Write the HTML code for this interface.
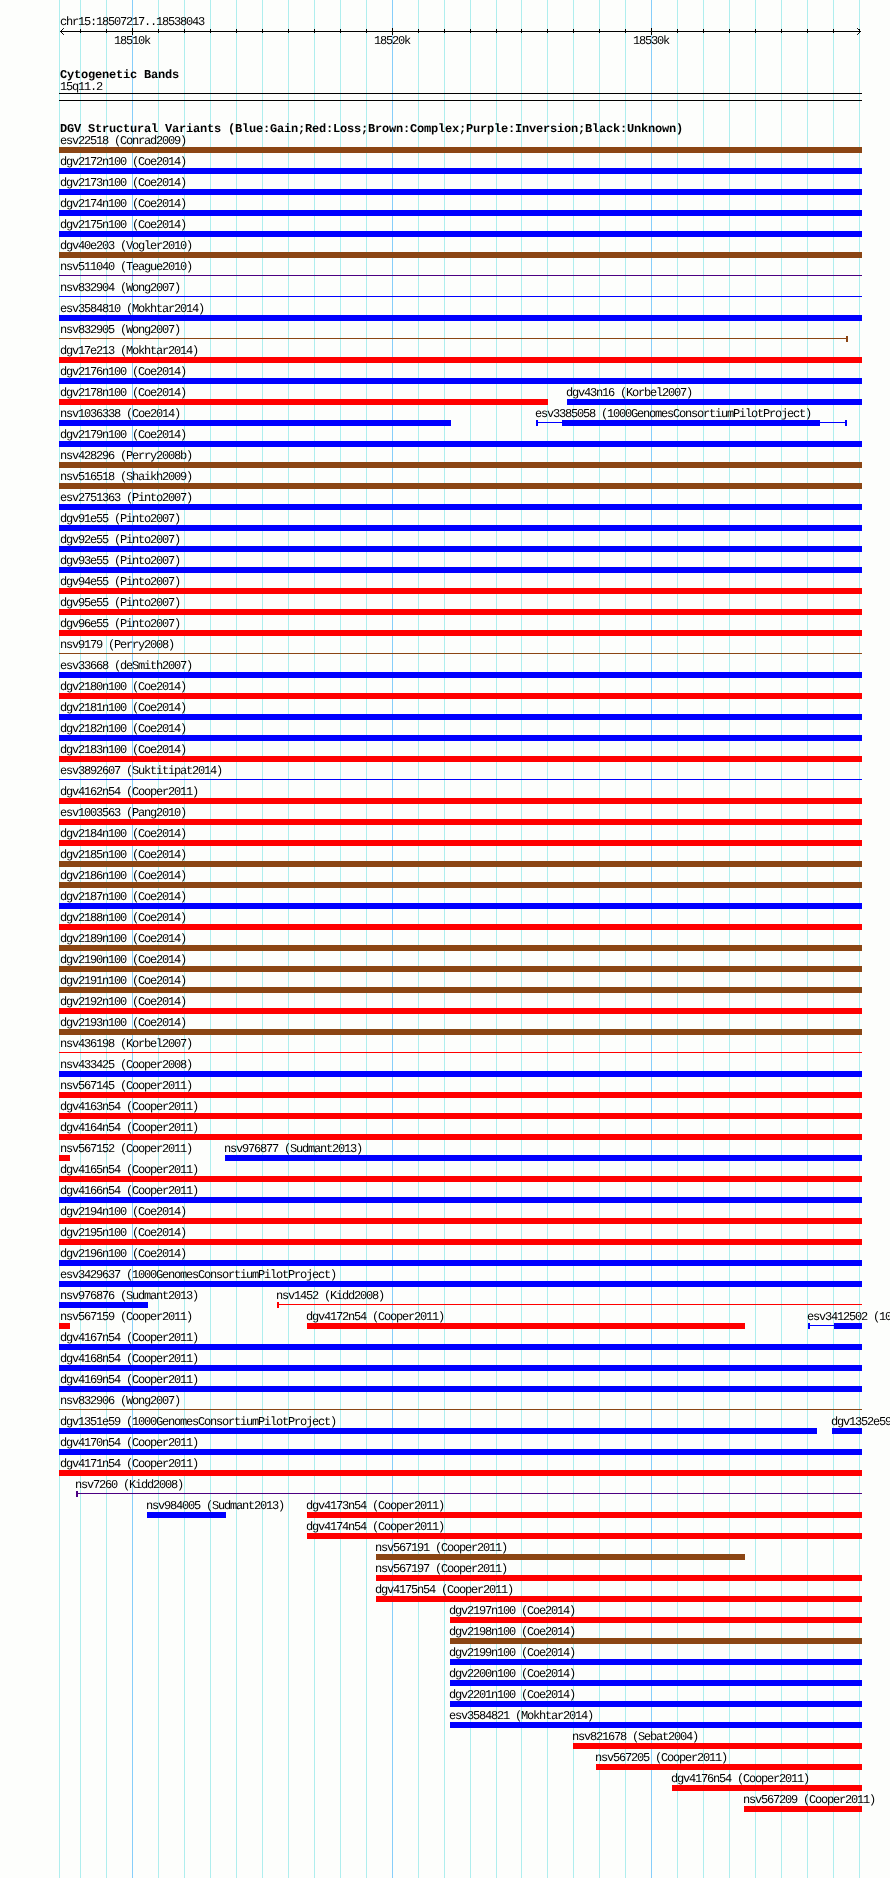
<!DOCTYPE html><html><head><meta charset="utf-8"><title>DGV</title><style>
html,body{margin:0;padding:0;background:#fdfefc;}
body{width:890px;height:1878px;position:relative;overflow:hidden;font-family:"Liberation Mono",monospace;color:#000;}
#c{position:absolute;left:0;top:0;width:890px;height:1878px;overflow:hidden;will-change:transform;}
i,b,s,u{position:absolute;display:block;font-style:normal;font-weight:normal;text-decoration:none;}
i{top:0;width:1px;height:1878px;background:#afeeee;}
i.M{background:#87cefa;}
b{height:6px;}
u{height:1px;}
s{white-space:pre;text-rendering:geometricPrecision;font-size:12px;line-height:14px;height:14px;letter-spacing:-1.2012px;}
s.B{font-weight:bold;letter-spacing:-0.2012px;}
.b{background:#0000ff;}.r{background:#ff0000;}.n{background:#8b4513;}.p{background:#4b0082;}.k{background:#000;}

</style></head><body><div id="c">
<i style="left:59px"></i>
<i style="left:80px"></i>
<i style="left:106px"></i>
<i class="M" style="left:132px"></i>
<i style="left:158px"></i>
<i style="left:184px"></i>
<i style="left:210px"></i>
<i style="left:236px"></i>
<i style="left:262px"></i>
<i style="left:288px"></i>
<i style="left:314px"></i>
<i style="left:340px"></i>
<i style="left:366px"></i>
<i class="M" style="left:392px"></i>
<i style="left:418px"></i>
<i style="left:444px"></i>
<i style="left:470px"></i>
<i style="left:496px"></i>
<i style="left:521px"></i>
<i style="left:547px"></i>
<i style="left:573px"></i>
<i style="left:599px"></i>
<i style="left:625px"></i>
<i class="M" style="left:651px"></i>
<i style="left:677px"></i>
<i style="left:703px"></i>
<i style="left:729px"></i>
<i style="left:755px"></i>
<i style="left:781px"></i>
<i style="left:807px"></i>
<i style="left:833px"></i>
<i style="left:859px"></i>
<u class="k" style="left:60px;top:31px;width:801px"></u>
<u class="k" style="left:80px;top:29px;width:1px;height:4px"></u>
<u class="k" style="left:106px;top:29px;width:1px;height:4px"></u>
<u class="k" style="left:132px;top:28px;width:1px;height:7px"></u>
<u class="k" style="left:158px;top:29px;width:1px;height:4px"></u>
<u class="k" style="left:184px;top:29px;width:1px;height:4px"></u>
<u class="k" style="left:210px;top:29px;width:1px;height:4px"></u>
<u class="k" style="left:236px;top:29px;width:1px;height:4px"></u>
<u class="k" style="left:262px;top:29px;width:1px;height:4px"></u>
<u class="k" style="left:288px;top:29px;width:1px;height:4px"></u>
<u class="k" style="left:314px;top:29px;width:1px;height:4px"></u>
<u class="k" style="left:340px;top:29px;width:1px;height:4px"></u>
<u class="k" style="left:366px;top:29px;width:1px;height:4px"></u>
<u class="k" style="left:392px;top:28px;width:1px;height:7px"></u>
<u class="k" style="left:418px;top:29px;width:1px;height:4px"></u>
<u class="k" style="left:444px;top:29px;width:1px;height:4px"></u>
<u class="k" style="left:470px;top:29px;width:1px;height:4px"></u>
<u class="k" style="left:496px;top:29px;width:1px;height:4px"></u>
<u class="k" style="left:521px;top:29px;width:1px;height:4px"></u>
<u class="k" style="left:547px;top:29px;width:1px;height:4px"></u>
<u class="k" style="left:573px;top:29px;width:1px;height:4px"></u>
<u class="k" style="left:599px;top:29px;width:1px;height:4px"></u>
<u class="k" style="left:625px;top:29px;width:1px;height:4px"></u>
<u class="k" style="left:651px;top:28px;width:1px;height:7px"></u>
<u class="k" style="left:677px;top:29px;width:1px;height:4px"></u>
<u class="k" style="left:703px;top:29px;width:1px;height:4px"></u>
<u class="k" style="left:729px;top:29px;width:1px;height:4px"></u>
<u class="k" style="left:755px;top:29px;width:1px;height:4px"></u>
<u class="k" style="left:781px;top:29px;width:1px;height:4px"></u>
<u class="k" style="left:807px;top:29px;width:1px;height:4px"></u>
<u class="k" style="left:833px;top:29px;width:1px;height:4px"></u>
<u class="k" style="left:859px;top:29px;width:1px;height:4px"></u>
<svg style="position:absolute;left:0;top:0" width="890" height="40"><path d="M63.5 28.5 L60.5 31.5 L63.5 34.5 M857.5 28.5 L860.5 31.5 L857.5 34.5" fill="none" stroke="#000" stroke-width="1" stroke-linecap="square"/></svg>
<s style="left:60px;top:15px">chr15:18507217..18538043</s>
<s style="left:114px;top:34px">18510k</s>
<s style="left:374px;top:34px">18520k</s>
<s style="left:633px;top:34px">18530k</s>
<s class="B" style="left:60px;top:68px">Cytogenetic Bands</s>
<s style="left:60px;top:80px">15q11.2</s>
<u class="k" style="left:59px;top:93px;width:803px"></u>
<u class="k" style="left:59px;top:100px;width:803px"></u>
<s class="B" style="left:60px;top:122px">DGV Structural Variants (Blue:Gain;Red:Loss;Brown:Complex;Purple:Inversion;Black:Unknown)</s>
<s style="left:60px;top:134px">esv22518 (Conrad2009)</s>
<b class="n" style="left:59px;top:147px;width:803px"></b>
<s style="left:60px;top:155px">dgv2172n100 (Coe2014)</s>
<b class="b" style="left:59px;top:168px;width:803px"></b>
<s style="left:60px;top:176px">dgv2173n100 (Coe2014)</s>
<b class="b" style="left:59px;top:189px;width:803px"></b>
<s style="left:60px;top:197px">dgv2174n100 (Coe2014)</s>
<b class="b" style="left:59px;top:210px;width:803px"></b>
<s style="left:60px;top:218px">dgv2175n100 (Coe2014)</s>
<b class="b" style="left:59px;top:231px;width:803px"></b>
<s style="left:60px;top:239px">dgv40e203 (Vogler2010)</s>
<b class="n" style="left:59px;top:252px;width:803px"></b>
<s style="left:60px;top:260px">nsv511040 (Teague2010)</s>
<u class="p" style="left:59px;top:275px;width:803px"></u>
<s style="left:60px;top:281px">nsv832904 (Wong2007)</s>
<u class="b" style="left:59px;top:296px;width:803px"></u>
<s style="left:60px;top:302px">esv3584810 (Mokhtar2014)</s>
<b class="b" style="left:59px;top:315px;width:803px"></b>
<s style="left:60px;top:323px">nsv832905 (Wong2007)</s>
<u class="n" style="left:59px;top:338px;width:789px"></u>
<b class="n" style="left:846px;top:336px;width:2px"></b>
<s style="left:60px;top:344px">dgv17e213 (Mokhtar2014)</s>
<b class="r" style="left:59px;top:357px;width:803px"></b>
<s style="left:60px;top:365px">dgv2176n100 (Coe2014)</s>
<b class="b" style="left:59px;top:378px;width:803px"></b>
<s style="left:60px;top:386px">dgv2178n100 (Coe2014)</s>
<b class="r" style="left:59px;top:399px;width:489px"></b>
<s style="left:566px;top:386px">dgv43n16 (Korbel2007)</s>
<b class="b" style="left:567px;top:399px;width:295px"></b>
<s style="left:60px;top:407px">nsv1036338 (Coe2014)</s>
<b class="b" style="left:59px;top:420px;width:392px"></b>
<s style="left:535px;top:407px">esv3385058 (1000GenomesConsortiumPilotProject)</s>
<u class="b" style="left:536px;top:422px;width:311px"></u>
<b class="b" style="left:536px;top:420px;width:2px"></b>
<b class="b" style="left:845px;top:420px;width:2px"></b>
<b class="b" style="left:562px;top:420px;width:258px"></b>
<s style="left:60px;top:428px">dgv2179n100 (Coe2014)</s>
<b class="b" style="left:59px;top:441px;width:803px"></b>
<s style="left:60px;top:449px">nsv428296 (Perry2008b)</s>
<b class="n" style="left:59px;top:462px;width:803px"></b>
<s style="left:60px;top:470px">nsv516518 (Shaikh2009)</s>
<b class="n" style="left:59px;top:483px;width:803px"></b>
<s style="left:60px;top:491px">esv2751363 (Pinto2007)</s>
<b class="b" style="left:59px;top:504px;width:803px"></b>
<s style="left:60px;top:512px">dgv91e55 (Pinto2007)</s>
<b class="b" style="left:59px;top:525px;width:803px"></b>
<s style="left:60px;top:533px">dgv92e55 (Pinto2007)</s>
<b class="b" style="left:59px;top:546px;width:803px"></b>
<s style="left:60px;top:554px">dgv93e55 (Pinto2007)</s>
<b class="b" style="left:59px;top:567px;width:803px"></b>
<s style="left:60px;top:575px">dgv94e55 (Pinto2007)</s>
<b class="r" style="left:59px;top:588px;width:803px"></b>
<s style="left:60px;top:596px">dgv95e55 (Pinto2007)</s>
<b class="r" style="left:59px;top:609px;width:803px"></b>
<s style="left:60px;top:617px">dgv96e55 (Pinto2007)</s>
<b class="r" style="left:59px;top:630px;width:803px"></b>
<s style="left:60px;top:638px">nsv9179 (Perry2008)</s>
<u class="n" style="left:59px;top:653px;width:803px"></u>
<s style="left:60px;top:659px">esv33668 (deSmith2007)</s>
<b class="b" style="left:59px;top:672px;width:803px"></b>
<s style="left:60px;top:680px">dgv2180n100 (Coe2014)</s>
<b class="r" style="left:59px;top:693px;width:803px"></b>
<s style="left:60px;top:701px">dgv2181n100 (Coe2014)</s>
<b class="b" style="left:59px;top:714px;width:803px"></b>
<s style="left:60px;top:722px">dgv2182n100 (Coe2014)</s>
<b class="b" style="left:59px;top:735px;width:803px"></b>
<s style="left:60px;top:743px">dgv2183n100 (Coe2014)</s>
<b class="r" style="left:59px;top:756px;width:803px"></b>
<s style="left:60px;top:764px">esv3892607 (Suktitipat2014)</s>
<u class="b" style="left:59px;top:779px;width:803px"></u>
<s style="left:60px;top:785px">dgv4162n54 (Cooper2011)</s>
<b class="r" style="left:59px;top:798px;width:803px"></b>
<s style="left:60px;top:806px">esv1003563 (Pang2010)</s>
<b class="r" style="left:59px;top:819px;width:803px"></b>
<s style="left:60px;top:827px">dgv2184n100 (Coe2014)</s>
<b class="r" style="left:59px;top:840px;width:803px"></b>
<s style="left:60px;top:848px">dgv2185n100 (Coe2014)</s>
<b class="n" style="left:59px;top:861px;width:803px"></b>
<s style="left:60px;top:869px">dgv2186n100 (Coe2014)</s>
<b class="n" style="left:59px;top:882px;width:803px"></b>
<s style="left:60px;top:890px">dgv2187n100 (Coe2014)</s>
<b class="b" style="left:59px;top:903px;width:803px"></b>
<s style="left:60px;top:911px">dgv2188n100 (Coe2014)</s>
<b class="r" style="left:59px;top:924px;width:803px"></b>
<s style="left:60px;top:932px">dgv2189n100 (Coe2014)</s>
<b class="n" style="left:59px;top:945px;width:803px"></b>
<s style="left:60px;top:953px">dgv2190n100 (Coe2014)</s>
<b class="n" style="left:59px;top:966px;width:803px"></b>
<s style="left:60px;top:974px">dgv2191n100 (Coe2014)</s>
<b class="n" style="left:59px;top:987px;width:803px"></b>
<s style="left:60px;top:995px">dgv2192n100 (Coe2014)</s>
<b class="r" style="left:59px;top:1008px;width:803px"></b>
<s style="left:60px;top:1016px">dgv2193n100 (Coe2014)</s>
<b class="n" style="left:59px;top:1029px;width:803px"></b>
<s style="left:60px;top:1037px">nsv436198 (Korbel2007)</s>
<u class="r" style="left:59px;top:1052px;width:803px"></u>
<s style="left:60px;top:1058px">nsv433425 (Cooper2008)</s>
<b class="b" style="left:59px;top:1071px;width:803px"></b>
<s style="left:60px;top:1079px">nsv567145 (Cooper2011)</s>
<b class="r" style="left:59px;top:1092px;width:803px"></b>
<s style="left:60px;top:1100px">dgv4163n54 (Cooper2011)</s>
<b class="r" style="left:59px;top:1113px;width:803px"></b>
<s style="left:60px;top:1121px">dgv4164n54 (Cooper2011)</s>
<b class="r" style="left:59px;top:1134px;width:803px"></b>
<s style="left:60px;top:1142px">nsv567152 (Cooper2011)</s>
<b class="r" style="left:59px;top:1155px;width:11px"></b>
<s style="left:224px;top:1142px">nsv976877 (Sudmant2013)</s>
<b class="b" style="left:225px;top:1155px;width:637px"></b>
<s style="left:60px;top:1163px">dgv4165n54 (Cooper2011)</s>
<b class="r" style="left:59px;top:1176px;width:803px"></b>
<s style="left:60px;top:1184px">dgv4166n54 (Cooper2011)</s>
<b class="b" style="left:59px;top:1197px;width:803px"></b>
<s style="left:60px;top:1205px">dgv2194n100 (Coe2014)</s>
<b class="r" style="left:59px;top:1218px;width:803px"></b>
<s style="left:60px;top:1226px">dgv2195n100 (Coe2014)</s>
<b class="r" style="left:59px;top:1239px;width:803px"></b>
<s style="left:60px;top:1247px">dgv2196n100 (Coe2014)</s>
<b class="b" style="left:59px;top:1260px;width:803px"></b>
<s style="left:60px;top:1268px">esv3429637 (1000GenomesConsortiumPilotProject)</s>
<b class="b" style="left:59px;top:1281px;width:803px"></b>
<s style="left:60px;top:1289px">nsv976876 (Sudmant2013)</s>
<b class="b" style="left:59px;top:1302px;width:89px"></b>
<s style="left:276px;top:1289px">nsv1452 (Kidd2008)</s>
<u class="r" style="left:277px;top:1304px;width:585px"></u>
<b class="r" style="left:277px;top:1302px;width:2px"></b>
<s style="left:60px;top:1310px">nsv567159 (Cooper2011)</s>
<b class="r" style="left:59px;top:1323px;width:11px"></b>
<s style="left:306px;top:1310px">dgv4172n54 (Cooper2011)</s>
<b class="r" style="left:307px;top:1323px;width:438px"></b>
<s style="left:807px;top:1310px">esv3412502 (1000GenomesConsortiumPilotProject)</s>
<u class="b" style="left:808px;top:1325px;width:54px"></u>
<b class="b" style="left:808px;top:1323px;width:2px"></b>
<b class="b" style="left:834px;top:1323px;width:28px"></b>
<s style="left:60px;top:1331px">dgv4167n54 (Cooper2011)</s>
<b class="b" style="left:59px;top:1344px;width:803px"></b>
<s style="left:60px;top:1352px">dgv4168n54 (Cooper2011)</s>
<b class="b" style="left:59px;top:1365px;width:803px"></b>
<s style="left:60px;top:1373px">dgv4169n54 (Cooper2011)</s>
<b class="b" style="left:59px;top:1386px;width:803px"></b>
<s style="left:60px;top:1394px">nsv832906 (Wong2007)</s>
<u class="n" style="left:59px;top:1409px;width:803px"></u>
<s style="left:60px;top:1415px">dgv1351e59 (1000GenomesConsortiumPilotProject)</s>
<b class="b" style="left:59px;top:1428px;width:758px"></b>
<s style="left:831px;top:1415px">dgv1352e59 (1000GenomesConsortiumPilotProject)</s>
<b class="b" style="left:832px;top:1428px;width:30px"></b>
<s style="left:60px;top:1436px">dgv4170n54 (Cooper2011)</s>
<b class="b" style="left:59px;top:1449px;width:803px"></b>
<s style="left:60px;top:1457px">dgv4171n54 (Cooper2011)</s>
<b class="r" style="left:59px;top:1470px;width:803px"></b>
<s style="left:75px;top:1478px">nsv7260 (Kidd2008)</s>
<u class="p" style="left:76px;top:1493px;width:786px"></u>
<b class="p" style="left:76px;top:1491px;width:2px"></b>
<s style="left:146px;top:1499px">nsv984005 (Sudmant2013)</s>
<b class="b" style="left:147px;top:1512px;width:79px"></b>
<s style="left:306px;top:1499px">dgv4173n54 (Cooper2011)</s>
<b class="r" style="left:307px;top:1512px;width:555px"></b>
<s style="left:306px;top:1520px">dgv4174n54 (Cooper2011)</s>
<b class="r" style="left:307px;top:1533px;width:555px"></b>
<s style="left:375px;top:1541px">nsv567191 (Cooper2011)</s>
<b class="n" style="left:376px;top:1554px;width:369px"></b>
<s style="left:375px;top:1562px">nsv567197 (Cooper2011)</s>
<b class="r" style="left:376px;top:1575px;width:486px"></b>
<s style="left:375px;top:1583px">dgv4175n54 (Cooper2011)</s>
<b class="r" style="left:376px;top:1596px;width:486px"></b>
<s style="left:449px;top:1604px">dgv2197n100 (Coe2014)</s>
<b class="r" style="left:450px;top:1617px;width:412px"></b>
<s style="left:449px;top:1625px">dgv2198n100 (Coe2014)</s>
<b class="n" style="left:450px;top:1638px;width:412px"></b>
<s style="left:449px;top:1646px">dgv2199n100 (Coe2014)</s>
<b class="b" style="left:450px;top:1659px;width:412px"></b>
<s style="left:449px;top:1667px">dgv2200n100 (Coe2014)</s>
<b class="b" style="left:450px;top:1680px;width:412px"></b>
<s style="left:449px;top:1688px">dgv2201n100 (Coe2014)</s>
<b class="b" style="left:450px;top:1701px;width:412px"></b>
<s style="left:449px;top:1709px">esv3584821 (Mokhtar2014)</s>
<b class="b" style="left:450px;top:1722px;width:412px"></b>
<s style="left:572px;top:1730px">nsv821678 (Sebat2004)</s>
<b class="r" style="left:573px;top:1743px;width:289px"></b>
<s style="left:595px;top:1751px">nsv567205 (Cooper2011)</s>
<b class="r" style="left:596px;top:1764px;width:266px"></b>
<s style="left:671px;top:1772px">dgv4176n54 (Cooper2011)</s>
<b class="r" style="left:672px;top:1785px;width:190px"></b>
<s style="left:743px;top:1793px">nsv567209 (Cooper2011)</s>
<b class="r" style="left:744px;top:1806px;width:118px"></b>
</div></body></html>
